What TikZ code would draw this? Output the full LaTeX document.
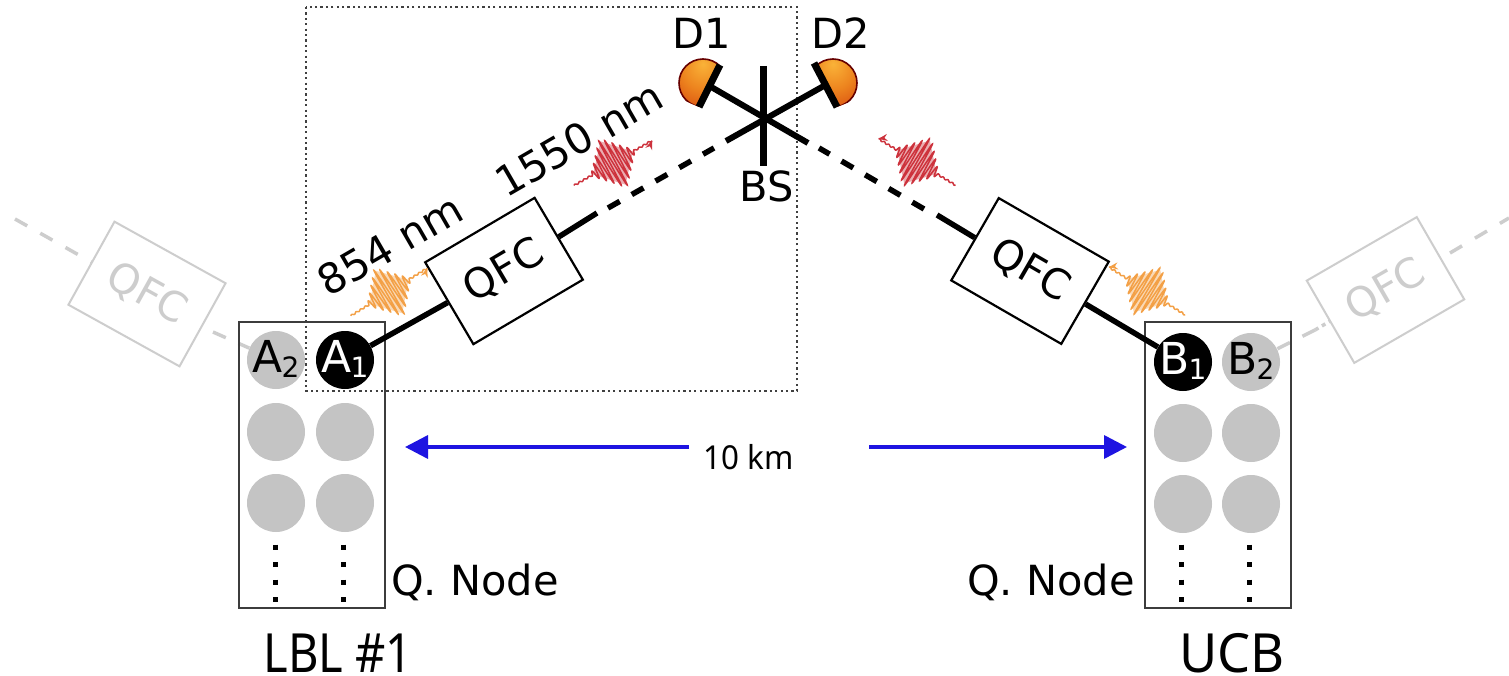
\documentclass[tikz,border=0pt]{standalone}
\usepackage{fontspec}
\setmainfont{DejaVu Sans}
\newfontfamily\nfont[FakeStretch=0.87]{Noto Sans}
\newfontfamily\ufont[FakeStretch=0.97]{Noto Sans}
\newfontfamily\kfont[FakeStretch=0.95]{Noto Sans}
\usetikzlibrary{arrows.meta}
\definecolor{fadeg}{RGB}{205,205,205}
\definecolor{qgray}{RGB}{196,196,196}
\definecolor{waveor}{RGB}{243,160,70}
\definecolor{wavered}{RGB}{205,50,60}
\definecolor{arrowb}{RGB}{30,20,225}
\definecolor{boxg}{RGB}{60,60,60}
\newcommand{\fs}[1]{\fontsize{#1}{#1}\selectfont}
\newcommand{\qsub}[2]{\raisebox{-12pt}[0pt][0pt]{\makebox[0pt]{#1\kern-1pt\raisebox{-5pt}{\fs{28}#2}}}}
\pgfdeclareradialshading{detshade}{\pgfpoint{0bp}{20bp}}{%
  rgb(0bp)=(0.98,0.70,0.22);
  rgb(22bp)=(0.93,0.52,0.12);
  rgb(44bp)=(0.85,0.30,0.06);
  rgb(66bp)=(0.75,0.06,0.04);
  rgb(100bp)=(0.6,0.03,0.03)}
\newcommand{\wavepkt}[4]{%
  \begin{scope}[shift={(#1,#2)},rotate=#3]
    \fill[#4!40] (-23,0) -- (0,-25) -- (23,0) -- (0,25) -- cycle;
    \draw[#4,line width=1.5pt,-{Stealth[length=9pt,width=7pt]}] plot[domain=-45:45,samples=720]
      ({\x},{(27*max(0,1-abs(\x)/25)+0.7)*sin(68*\x)});
  \end{scope}}
\tikzset{
  qbox/.style={draw=#1,text=#1,fill=white,line width=2.2pt,minimum width=127pt,minimum height=95pt,inner sep=0pt,font=\fs{41}},
  qbox/.default=black,
  qubit/.style={circle,fill=qgray,minimum size=58pt,inner sep=0pt,font=\fs{44}},
  qubiton/.style={qubit,fill=black,text=white},
  membox/.style={draw=boxg,line width=2.4pt,fill=none},
  label/.style={inner sep=0pt,font=\fs{41.5}},
  thickl/.style={line width=5.5pt,black},
  dashl/.style={line width=5.5pt,black,dash pattern=on 13.5pt off 13.8pt},
  fadel/.style={line width=3.5pt,fadeg,dash pattern=on 14pt off 15pt},
  dotcol/.style={line width=5pt,black,dash pattern=on 5pt off 12.6pt},
  kmarrow/.style={line width=3.5pt,arrowb,-{Triangle[length=23pt,width=23pt]}},
  detbar/.style={line width=7pt,black},
}
\begin{document}
\begin{tikzpicture}[x=1pt,y=-1pt]
\useasboundingbox (0,0) rectangle (1509,676);
\fill[white] (0,0) rectangle (1509,676);

% coordinates
\coordinate (bsT) at (763,66);
\coordinate (bsB) at (763,166);
\coordinate (d1c) at (709.5,86);
\coordinate (d2c) at (825.5,85);
\coordinate (bsL) at (726,141);
\coordinate (bsR) at (808,143);
\coordinate (lsolid) at (597,213);
\coordinate (rsolid) at (937,215);
\coordinate (ld0) at (608,208);
\coordinate (ld1) at (714,148);
\coordinate (rd0) at (924,209);
\coordinate (rd1) at (819,148);
\coordinate (fl0) at (15,219);
\coordinate (fl1) at (93,263);
\coordinate (fr0) at (1450,253);
\coordinate (fr1) at (1509,218);
\coordinate (fa0) at (213,332);
\coordinate (fb0) at (1315,330);
\coordinate (fb1) at (1332,320);

% dotted frame
\draw[line width=2pt,black!75,dash pattern=on 2.2pt off 3.2pt] (306,7) rectangle (797,391);

% faded connectors and boxes
\draw[fadel] (fl0) -- (fl1);
\draw[fadel] (fr0) -- (fr1);
\draw[fadel,dash pattern=on 4pt off 4pt] (fb0) -- (fb1);
\node[qbox=fadeg,rotate=-29,line width=2pt] (qfcA2) at (147,294) {QFC};
\node[qbox=fadeg,rotate=30,line width=2pt] (qfcB2) at (1385.5,290) {QFC};

% detectors
\begin{scope}
  \clip (720,65) -- (699,107) -- (660,90) -- (670,40) -- (720,40) -- cycle;
  \draw[red!40!black,line width=1.6pt,shading=detshade] (703,83) circle (24);
\end{scope}
\begin{scope}
  \clip (814,63) -- (837,107) -- (880,90) -- (870,40) -- (814,40) -- cycle;
  \draw[red!40!black,line width=1.6pt,shading=detshade] (833,83) circle (24);
\end{scope}

% qubits
\node[qubit] (A2) at (276,360) {\qsub{A}{2}};
\node[qubiton] (A1) at (345,360) {\qsub{A}{1}};
\node[qubit] (a3) at (276,432) {};
\node[qubit] (a4) at (345,432) {};
\node[qubit] (a5) at (276,503) {};
\node[qubit] (a6) at (345,503) {};
\node[qubiton] (B1) at (1183,362) {\qsub{B}{1}};
\node[qubit] (B2) at (1251,362) {\qsub{B}{2}};
\node[qubit] (b3) at (1183,433) {};
\node[qubit] (b4) at (1251,433) {};
\node[qubit] (b5) at (1183,504) {};
\node[qubit] (b6) at (1251,504) {};

% faded links to the second qubits
\draw[fadel,dash pattern=on 14pt off 14pt] (fa0) -- (A2);
\draw[fadel,dash pattern=on 14pt off 14pt] (fb0) -- (B2);

% memory boxes
\node[membox,minimum width=146pt,minimum height=286pt,inner sep=0pt] (nodeL) at (312,465) {};
\node[membox,minimum width=146pt,minimum height=286pt,inner sep=0pt] (nodeR) at (1218,465) {};

% dots
\draw[dotcol] (275,544.5) -- (275,603);
\draw[dotcol] (343,544.5) -- (343,603);
\draw[dotcol] (1181,544.5) -- (1181,603);
\draw[dotcol] (1249,544.5) -- (1249,603);

% QFC boxes
\node[qbox,rotate=30.5] (qfcL) at (504,271) {QFC};
\node[qbox,rotate=-30] (qfcR) at (1030,271) {QFC};

% links
\draw[thickl] (A1) -- (qfcL);
\draw[thickl] (B1) -- (qfcR);
\draw[thickl] (qfcL) -- (lsolid);
\draw[thickl] (qfcR) -- (rsolid);
\draw[dashl] (ld0) -- (ld1);
\draw[dashl] (rd0) -- (rd1);

% beam splitter and detector arms
\draw[line width=6pt] (d1c) -- (bsR);
\draw[line width=6pt] (d2c) -- (bsL);
\draw[detbar] (bsT) -- (bsB);
\draw[detbar] (720,65) -- (699,107);
\draw[detbar] (814,63) -- (837,107);

% wave packets
\wavepkt{389}{292}{32}{waveor}
\wavepkt{613}{163}{30}{wavered}
\wavepkt{917}{162}{149}{wavered}
\wavepkt{1147}{291}{148}{waveor}

% labels
\node[label] (lD1) at (702,33) {D1};
\node[label] (lD2) at (841,33) {D2};
\node[label] (lBS) at (767,186) {BS};
\node[label,rotate=30] (l854) at (390,245) {854 nm};
\node[label,rotate=30] (l1550) at (579,139) {1550 nm};
\node[label] (lqL) at (475,582) {Q. Node};
\node[label] (lqR) at (1051,582) {Q. Node};
\node[anchor=base,inner sep=0pt,font=\nfont\fs{54}] (lLBL) at (338,672) {LBL \#1};
\node[anchor=base,inner sep=0pt,font=\ufont\fs{54}] (lUCB) at (1232,672) {UCB};
\node[anchor=base,inner sep=0pt,font=\kfont\fs{33}] (lkm) at (749,469) {10 km};

% distance arrows
\coordinate (arL0) at (689,447);
\coordinate (arL1) at (405,447);
\coordinate (arR0) at (869,447);
\coordinate (arR1) at (1127,447);
\draw[kmarrow] (arL0) -- (arL1);
\draw[kmarrow] (arR0) -- (arR1);
\end{tikzpicture}
\end{document}
